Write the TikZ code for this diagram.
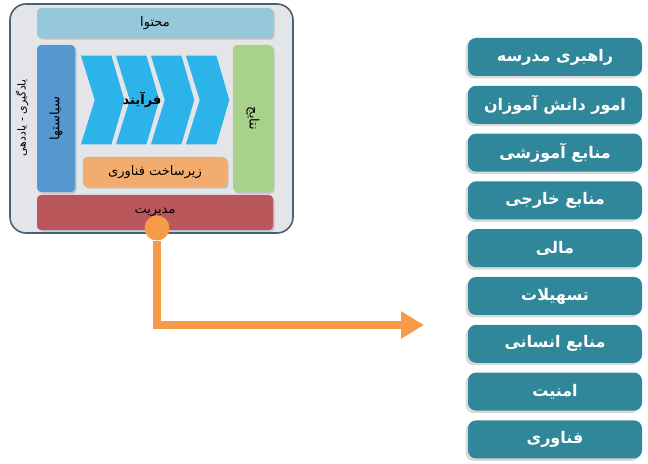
\documentclass[tikz,border=0pt]{standalone}
\usepackage{fontspec}
\usepackage{tikz}
\usetikzlibrary{arrows.meta,shadows,positioning}
\TeXXeTstate=1
\newfontfamily\fafont[Script=Arabic]{DejaVu Sans}
\definecolor{frameline}{HTML}{4A5F78}
\definecolor{framefill}{HTML}{E4E5E8}
\definecolor{contentblue}{HTML}{94C8DA}
\definecolor{policyblue}{HTML}{5598CF}
\definecolor{resultgreen}{HTML}{A8D18C}
\definecolor{techorange}{HTML}{F2AD6E}
\definecolor{mgmtred}{HTML}{B9575A}
\definecolor{chevcyan}{HTML}{2BB3EA}
\definecolor{linkorange}{HTML}{F79A4A}
\definecolor{itemteal}{HTML}{2F8799}
\tikzset{
  bar/.style={rounded corners=2pt, inner sep=0pt, font=\fafont\fontsize{6.5}{8}\selectfont,
    drop shadow={shadow xshift=0.8pt, shadow yshift=-0.8pt, opacity=.35}},
  itembox/.style={fill=itemteal, rounded corners=4pt, minimum width=87pt, minimum height=19pt,
    inner sep=0pt, text=white, font=\fafont\bfseries\fontsize{8}{10}\selectfont,
    drop shadow={shadow xshift=-1.2pt, shadow yshift=-1.2pt, opacity=.3}},
  link/.style={draw=linkorange, line width=4pt}
}
\begin{document}
\begin{tikzpicture}[x=0.5pt,y=-0.5pt]
  \useasboundingbox (0,0) rectangle (648,464);
  % outer frame
  \draw[frameline, fill=framefill, line width=0.8pt, rounded corners=8pt]
    (10,4) rectangle (293,233);
  \node[rotate=90, font=\fafont\fontsize{5.5}{7}\selectfont] (learn) at (22,118)
    {\beginR یادگیری - یاددهی\endR};
  % bars
  \node[bar, fill=contentblue, minimum width=118pt, minimum height=15pt] (content) at (155,23)
    {\beginR محتوا\endR};
  \node[bar, fill=policyblue, rotate=90, minimum width=73.5pt, minimum height=19pt] (policy) at (56,118.5)
    {\beginR سیاستها\endR};
  \node[bar, fill=resultgreen, rotate=-90, minimum width=73.5pt, minimum height=20pt] (result) at (253,118.5)
    {\beginR نتایج\endR};
  \node[bar, fill=techorange, minimum width=72pt, minimum height=15pt] (infra) at (155,172)
    {\beginR زیرساخت فناوری\endR};
  \node[bar, fill=mgmtred, minimum width=118pt, minimum height=17.5pt] (mgmt) at (155,212.5)
    {\raisebox{2pt}{\beginR مدیریت\endR}};
  % chevrons
  \foreach \x in {80,115,150,185}
    \filldraw[fill=chevcyan, draw=framefill, line width=0.6pt] (\x,55) -- (\x+32,55) -- (\x+45,100)
      -- (\x+32,145) -- (\x,145) -- (\x+14,100) -- cycle;
  \node[font=\fafont\bfseries\fontsize{6.5}{8}\selectfont] (process) at (142,100) {\beginR فرآیند\endR};
  % link
  \node[circle, fill=linkorange, minimum size=12.5pt, inner sep=0pt] (dot) at (157,228) {};
  \coordinate (tip) at (424,325);
  \draw[link, -{Triangle[length=11.5pt, width=13pt]}] (dot) |- (tip);
  % items
  \foreach \t [count=\i] in {راهبری مدرسه, امور دانش آموزان, منابع آموزشی, منابع خارجی,
      مالی, تسهیلات, منابع انسانی, امنیت, فناوری}
    \node[itembox] (item\i) at (555,{57+47.8*(\i-1)}) {\beginR\t\endR};
\end{tikzpicture}
\end{document}
